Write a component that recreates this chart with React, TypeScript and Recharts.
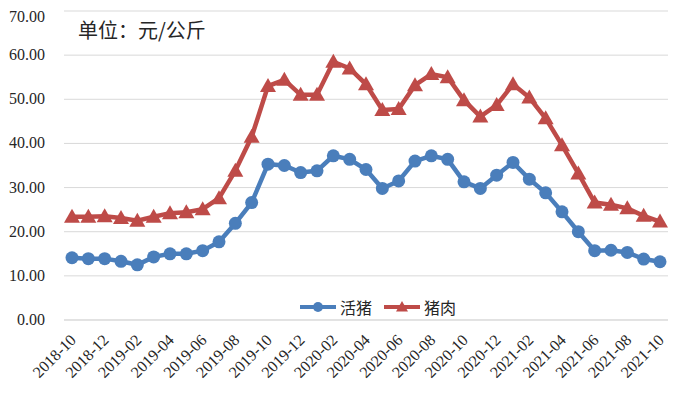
import { LineChart, Line, XAxis, YAxis, CartesianGrid, Legend } from 'recharts';

const months = [
  '2018-10', '2018-11', '2018-12', '2019-01', '2019-02', '2019-03', '2019-04', '2019-05',
  '2019-06', '2019-07', '2019-08', '2019-09', '2019-10', '2019-11', '2019-12', '2020-01',
  '2020-02', '2020-03', '2020-04', '2020-05', '2020-06', '2020-07', '2020-08', '2020-09',
  '2020-10', '2020-11', '2020-12', '2021-01', '2021-02', '2021-03', '2021-04', '2021-05',
  '2021-06', '2021-07', '2021-08', '2021-09', '2021-10',
];

// 活猪
const livePig = [
  14.1, 13.9, 13.9, 13.3, 12.5, 14.3, 15.0, 15.0,
  15.7, 17.7, 21.9, 26.6, 35.3, 35.0, 33.4, 33.8,
  37.2, 36.4, 34.1, 29.8, 31.5, 36.0, 37.2, 36.4,
  31.3, 29.8, 32.8, 35.7, 31.9, 28.8, 24.5, 20.0,
  15.7, 15.8, 15.3, 13.8, 13.2,
];

// 猪肉
const pork = [
  23.4, 23.4, 23.5, 23.1, 22.5, 23.4, 24.2, 24.4,
  25.1, 27.6, 33.8, 41.5, 53.0, 54.4, 51.0, 51.0,
  58.5, 57.0, 53.4, 47.6, 47.8, 53.2, 55.7, 55.0,
  49.8, 46.1, 48.7, 53.4, 50.4, 45.7, 39.6, 33.2,
  26.6, 26.1, 25.3, 23.6, 22.3,
];

const yTicks = [0, 10, 20, 30, 40, 50, 60, 70];

const BLUE = '#4a7ebb';
const RED = '#be4b48';

const data = months.map((m, i) => ({ month: m, live: livePig[i], pork: pork[i] }));

const serif = "'Liberation Serif', 'DejaVu Serif', serif";
const cjk = "'Noto Sans CJK SC', sans-serif";

function Triangle({ cx, cy, fill, s = 8 }: { cx: number; cy: number; fill: string; s?: number }) {
  return (
    <polygon
      points={`${cx},${cy - s} ${cx - s},${cy + s * 0.75} ${cx + s},${cy + s * 0.75}`}
      fill={fill}
    />
  );
}

function XTick(props: any) {
  const { x, y, payload } = props;
  const ax = x + 5;
  const ay = y + 13;
  return (
    <text
      x={ax}
      y={ay}
      textAnchor="end"
      transform={`rotate(-45, ${ax}, ${ay})`}
      fontFamily={serif}
      fontSize={16}
      fill="#262626"
    >
      {payload.value}
    </text>
  );
}

function YTick(props: any) {
  const { x, y, payload } = props;
  return (
    <text x={x - 3} y={y} dy={5} textAnchor="end" fontFamily={serif} fontSize={16} fill="#262626">
      {Number(payload.value).toFixed(2)}
    </text>
  );
}

function LegendBox(props: any) {
  const items = props.payload ?? [];
  return (
    <div style={{ display: 'flex', alignItems: 'center', gap: 10 }}>
      {items.map((it: any) => {
        const isPork = it.dataKey === 'pork';
        const c = isPork ? RED : BLUE;
        return (
          <div key={it.dataKey} style={{ display: 'flex', alignItems: 'center' }}>
            <svg width={40} height={16}>
              <line x1={2} y1={8} x2={38} y2={8} stroke={c} strokeWidth={4} />
              {isPork ? (
                <Triangle cx={20} cy={8} fill={c} s={6} />
              ) : (
                <circle cx={20} cy={8} r={5} fill={c} />
              )}
            </svg>
            <span style={{ fontFamily: cjk, fontSize: 16, color: '#262626', marginLeft: 2 }}>
              {it.value}
            </span>
          </div>
        );
      })}
    </div>
  );
}

export default function App() {
  return (
    <div style={{ position: 'relative', width: 672, height: 385 }}>
      <LineChart
        width={672}
        height={385}
        data={data}
        margin={{ top: 3, right: 12, left: 0, bottom: 0 }}
      >
        <CartesianGrid vertical={false} stroke="#d9d9d9" strokeWidth={1} />
        <XAxis
          dataKey="month"
          interval={1}
          height={73}
          padding={{ left: 8, right: 8 }}
          tickLine={false}
          axisLine={{ stroke: '#d9d9d9' }}
          tick={<XTick />}
        />
        <YAxis
          domain={[0, 70]}
          ticks={yTicks}
          width={56}
          axisLine={false}
          tickLine={false}
          tickMargin={10}
          tick={<YTick />}
        />
        <Legend
          layout="horizontal"
          align="center"
          verticalAlign="middle"
          content={<LegendBox />}
          wrapperStyle={{ position: 'absolute', left: 290, top: 287, width: 200, height: 20 }}
        />
        <Line
          type="linear"
          dataKey="live"
          name="活猪"
          stroke={BLUE}
          strokeWidth={4.5}
          dot={{ r: 6.5, fill: BLUE, stroke: BLUE, strokeWidth: 0 }}
          activeDot={false}
          isAnimationActive={false}
        />
        <Line
          type="linear"
          dataKey="pork"
          name="猪肉"
          stroke={RED}
          strokeWidth={4.5}
          dot={(p: any) => <Triangle key={`t${p.index}`} cx={p.cx} cy={p.cy} fill={RED} />}
          activeDot={false}
          isAnimationActive={false}
        />
      </LineChart>
      <div
        style={{
          position: 'absolute',
          left: 70,
          top: 7,
          fontFamily: cjk,
          fontSize: 20,
          color: '#262626',
          pointerEvents: 'none',
        }}
      >
        单位：元/公斤
      </div>
    </div>
  );
}
